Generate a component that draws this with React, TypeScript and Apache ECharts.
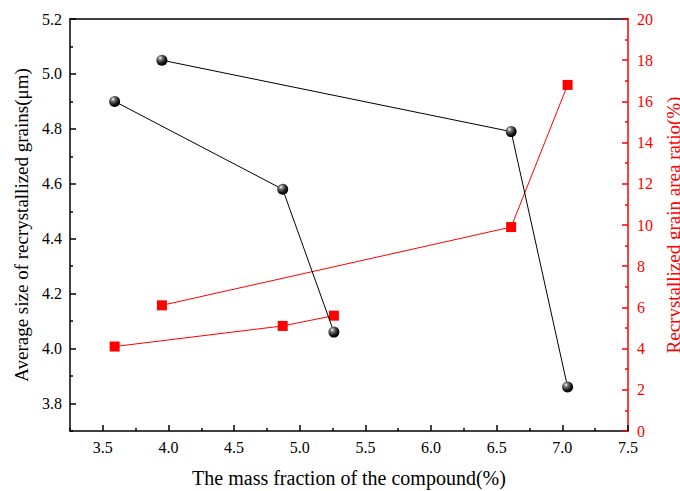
import React, { useEffect, useRef } from "react";
import * as echarts from "echarts";

const xA = [3.59, 4.87, 5.26];
const xB = [3.95, 6.61, 7.04];
const grainSizeA = [4.9, 4.58, 4.06];
const grainSizeB = [5.05, 4.79, 3.86];
const areaRatioA = [4.1, 5.1, 5.6];
const areaRatioB = [6.1, 9.9, 16.8];

const xMajorTicks = [3.5, 4.0, 4.5, 5.0, 5.5, 6.0, 6.5, 7.0, 7.5];
const xMinorTicks = [3.25, 3.75, 4.25, 4.75, 5.25, 5.75, 6.25, 6.75, 7.25];
const yMajorTicks = [3.8, 4.0, 4.2, 4.4, 4.6, 4.8, 5.0, 5.2];
const yMinorTicks = [3.7, 3.9, 4.1, 4.3, 4.5, 4.7, 4.9, 5.1];

const FONT = "Liberation Serif";

export default function App() {
  const ref = useRef<HTMLDivElement>(null);
  useEffect(() => {
    const chart = echarts.init(ref.current!, null, { renderer: "svg" });
    const sphere = new echarts.graphic.RadialGradient(0.35, 0.3, 0.75, [
      { offset: 0, color: "#ffffff" },
      { offset: 0.25, color: "#777777" },
      { offset: 0.7, color: "#111111" },
      { offset: 1, color: "#000000" },
    ]);
    const pair = (xs: number[], ys: number[]) => xs.map((x, i) => [x, ys[i]]);
    const blackSeries = (data: number[][]) => ({
      type: "line",
      xAxisIndex: 0,
      yAxisIndex: 0,
      data,
      symbol: "circle",
      symbolSize: 11,
      itemStyle: { color: sphere, borderWidth: 0 },
      lineStyle: { color: "#000", width: 1 },
      z: 3,
    });
    const redSeries = (data: number[][]) => ({
      type: "line",
      xAxisIndex: 0,
      yAxisIndex: 1,
      data,
      symbol: "rect",
      symbolSize: 10,
      itemStyle: { color: "#ff0000", borderWidth: 0 },
      lineStyle: { color: "#ff0000", width: 1 },
      z: 2,
    });
    chart.setOption({
      animation: false,
      backgroundColor: "#fff",
      textStyle: { fontFamily: FONT },
      grid: { left: 70, right: 52, top: 19, bottom: 60, containLabel: false, outerBoundsMode: "none" },
      xAxis: [
        {
          type: "value",
          position: "bottom",
          min: 3.25,
          max: 7.5,
          name: "The mass fraction of the compound(%)",
          nameLocation: "middle",
          nameGap: 37,
          nameTextStyle: { fontFamily: FONT, fontSize: 20, color: "#000" },
          axisLine: { show: true, lineStyle: { color: "#000", width: 1.5 } },
          axisTick: {
            show: true,
            inside: true,
            length: 6,
            customValues: xMajorTicks,
            lineStyle: { color: "#000", width: 1.5 },
          },
          axisLabel: {
            customValues: xMajorTicks,
            formatter: (v: number) => v.toFixed(1),
            fontFamily: FONT,
            fontSize: 16,
            color: "#000",
            margin: 8,
          },
          splitLine: { show: false },
        },
        {
          type: "value",
          position: "bottom",
          min: 3.25,
          max: 7.5,
          axisLine: { show: false },
          axisTick: {
            show: true,
            inside: true,
            length: 3,
            customValues: xMinorTicks,
            lineStyle: { color: "#000", width: 1.5 },
          },
          axisLabel: { show: false },
          splitLine: { show: false },
        },
        {
          type: "value",
          position: "top",
          min: 3.25,
          max: 7.5,
          axisLine: { show: true, lineStyle: { color: "#000", width: 1.5 } },
          axisTick: { show: false },
          axisLabel: { show: false },
          splitLine: { show: false },
        },
      ],
      yAxis: [
        {
          type: "value",
          position: "left",
          min: 3.7,
          max: 5.2,
          name: "Average size of recrystallized grains(μm)",
          nameLocation: "middle",
          nameGap: 28,
          nameRotate: 90,
          nameTextStyle: { fontFamily: FONT, fontSize: 19, color: "#000" },
          axisLine: { show: true, lineStyle: { color: "#000", width: 1.5 } },
          axisTick: {
            show: true,
            inside: true,
            length: 6,
            customValues: yMajorTicks,
            lineStyle: { color: "#000", width: 1.5 },
          },
          axisLabel: {
            customValues: yMajorTicks,
            formatter: (v: number) => v.toFixed(1),
            fontFamily: FONT,
            fontSize: 16,
            color: "#000",
            margin: 8,
          },
          splitLine: { show: false },
        },
        {
          type: "value",
          position: "right",
          min: 0,
          max: 20,
          interval: 2,
          name: "Recrystallized grain area ratio(%)",
          nameLocation: "middle",
          nameGap: 26,
          nameRotate: 90,
          nameTextStyle: {
            fontFamily: FONT,
            fontSize: 19,
            color: "#ff0000",
          },
          axisLine: { show: true, lineStyle: { color: "#ff0000", width: 1.5 } },
          axisTick: {
            show: true,
            inside: true,
            length: 6,
            lineStyle: { color: "#ff0000", width: 1.5 },
          },
          minorTick: {
            show: true,
            splitNumber: 2,
            length: 3,
            lineStyle: { color: "#ff0000", width: 1.5 },
          },
          axisLabel: {
            fontFamily: FONT,
            fontSize: 16,
            color: "#ff0000",
            margin: 9,
          },
          splitLine: { show: false },
          minorSplitLine: { show: false },
        },
        {
          type: "value",
          position: "left",
          min: 3.7,
          max: 5.2,
          axisLine: { show: false },
          axisTick: {
            show: true,
            inside: true,
            length: 3,
            customValues: yMinorTicks,
            lineStyle: { color: "#000", width: 1.5 },
          },
          axisLabel: { show: false },
          splitLine: { show: false },
        },
      ],
      series: [
        blackSeries(pair(xA, grainSizeA)),
        blackSeries(pair(xB, grainSizeB)),
        redSeries(pair(xA, areaRatioA)),
        redSeries(pair(xB, areaRatioB)),
      ],
    });
    return () => chart.dispose();
  }, []);
  return <div ref={ref} style={{ width: 680, height: 491, position: "absolute", left: 0, top: 0 }} />;
}
